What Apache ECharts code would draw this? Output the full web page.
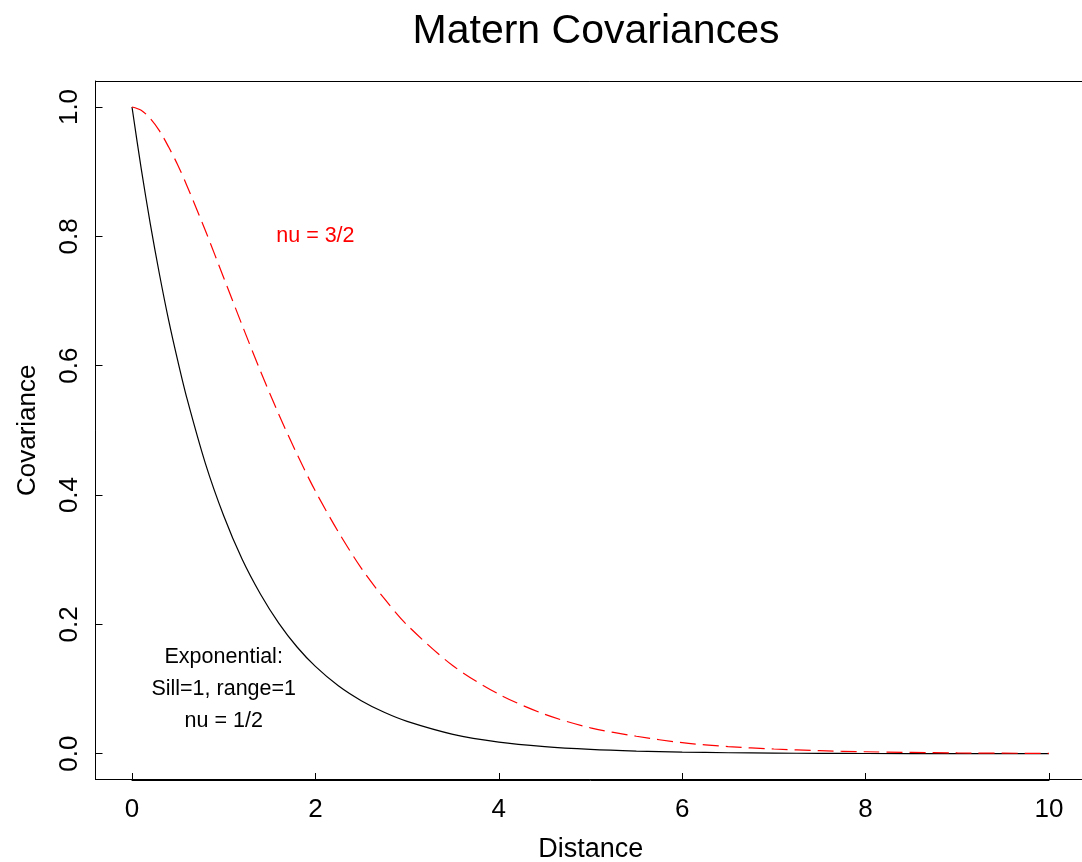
<!DOCTYPE html>
<html>
<head>
<meta charset="utf-8">
<script src="https://cdn.jsdelivr.net/npm/echarts@6/dist/echarts.min.js"></script>
<style>
html,body{margin:0;padding:0;background:#fff;}
#chart{width:1082px;height:862px;}
</style>
</head>
<body>
<div id="chart"></div>
<script>
// Distance values (x)
const distances = [0,0.1,0.2,0.3,0.4,0.5,0.6,0.8,1.0,1.2,1.4,1.6,1.8,2.0,2.25,2.5,2.75,3,3.5,4,4.5,5,5.5,6,6.5,7,7.5,8,9,10];
// Exponential covariance (nu = 1/2)
const expCov = [1,0.905,0.819,0.741,0.670,0.607,0.549,0.449,0.368,0.301,0.247,0.202,0.165,0.135,0.105,0.082,0.064,0.050,0.030,0.018,0.011,0.0067,0.0041,0.0025,0.0015,0.0009,0.0006,0.0003,0.0001,0.00005];
// Matern covariance (nu = 3/2)
const maternCov = [1,0.995,0.982,0.963,0.938,0.910,0.878,0.809,0.736,0.663,0.592,0.525,0.463,0.406,0.343,0.287,0.240,0.199,0.136,0.092,0.061,0.040,0.027,0.017,0.011,0.0073,0.0047,0.0030,0.0012,0.0005];
// Tick labels
const xTicks = [0,2,4,6,8,10];
const yTicks = [0,0.2,0.4,0.6,0.8,1.0];
// Annotations
const expNote = [[1,0.15,'Exponential:'],[1,0.10,'Sill=1, range=1'],[1,0.05,'nu = 1/2']];
const maternNote = [[2,0.8,'nu = 3/2']];

const FONT = '"Liberation Sans", Arial, sans-serif';
const chart = echarts.init(document.getElementById('chart'), null, {renderer:'canvas'});
chart.setOption({
  animation:false,
  backgroundColor:'#fff',
  title:{
    text:'Matern Covariances',
    left:591, top:6, textAlign:'center',
    textStyle:{fontFamily:FONT, fontSize:41, fontWeight:'normal', color:'#000'}
  },
  grid:[
    // outer frame (R plot box, extended 4% each side)
    {left:95.5, right:-4, top:81, bottom:82.4, show:false, containLabel:false, outerBoundsMode:'none'},
    // data region: exactly 0..10 by 0..1
    {left:132, right:33, top:107, bottom:108.3, show:false, containLabel:false, outerBoundsMode:'none'}
  ],
  xAxis:[{
    gridIndex:0, type:'value', min:-0.4, max:10.4, position:'bottom',
    name:'Distance', nameLocation:'middle', nameGap:56,
    nameTextStyle:{fontFamily:FONT, fontSize:27, color:'#000'},
    axisLine:{show:true, onZero:false, lineStyle:{color:'#000', width:1}},
    splitLine:{show:false}, axisTick:{show:false}, axisLabel:{show:false}
  },{
    gridIndex:0, type:'value', min:-0.4, max:10.4, position:'top',
    axisLine:{show:true, onZero:false, lineStyle:{color:'#000', width:1}},
    splitLine:{show:false}, axisTick:{show:false}, axisLabel:{show:false}
  },{
    gridIndex:1, type:'value', min:0, max:10, interval:2, position:'bottom', offset:26.3,
    axisLine:{show:true, onZero:false, lineStyle:{color:'#000', width:1}},
    splitLine:{show:false},
    axisTick:{show:true, inside:true, length:7, lineStyle:{color:'#000', width:1}},
    axisLabel:{show:true, margin:17, fontFamily:FONT, fontSize:26, color:'#000',
      formatter:v=>(xTicks.indexOf(v)>=0?String(v):'')}
  }],
  yAxis:[{
    gridIndex:0, type:'value', min:-0.04, max:1.04,
    name:'Covariance', nameLocation:'middle', nameGap:55,
    nameTextStyle:{fontFamily:FONT, fontSize:26, color:'#000'},
    axisLine:{show:true, onZero:false, lineStyle:{color:'#000', width:1}},
    splitLine:{show:false}, axisTick:{show:false}, axisLabel:{show:false}
  },{
    gridIndex:1, type:'value', min:0, max:1, interval:0.2, position:'left', offset:36.5,
    axisLine:{show:true, onZero:false, lineStyle:{color:'#000', width:1}},
    splitLine:{show:false},
    axisTick:{show:true, inside:true, length:7, lineStyle:{color:'#000', width:1}},
    axisLabel:{show:true, margin:13, rotate:90, fontFamily:FONT, fontSize:26, color:'#000',
      formatter:v=>{const t=yTicks.find(y=>Math.abs(y-v)<1e-9);return t===undefined?'':t.toFixed(1);}}
  }],
  series:[
    {
      type:'line', name:'exp', xAxisIndex:2, yAxisIndex:1, clip:false,
      data:distances.map((d,i)=>[d,expCov[i]]),
      showSymbol:false, smooth:0.3, lineStyle:{color:'#000', width:1.2}, z:2
    },
    {
      type:'line', name:'matern', xAxisIndex:2, yAxisIndex:1, clip:false,
      data:distances.map((d,i)=>[d,maternCov[i]]),
      showSymbol:false, smooth:0.3, lineStyle:{color:'#ff0000', width:1.2, type:[16,7]}, z:3
    },
    {
      type:'scatter', xAxisIndex:2, yAxisIndex:1, data:expNote, symbolSize:0, itemStyle:{opacity:1},
      label:{show:true, position:'inside', formatter:p=>p.data[2], fontFamily:FONT, fontSize:21.5, color:'#000', opacity:1},
      silent:true
    },
    {
      type:'scatter', xAxisIndex:2, yAxisIndex:1, data:maternNote, symbolSize:0, itemStyle:{opacity:1},
      label:{show:true, position:'inside', formatter:p=>p.data[2], fontFamily:FONT, fontSize:21.5, color:'#ff0000', opacity:1},
      silent:true
    }
  ]
});
</script>
</body>
</html>
